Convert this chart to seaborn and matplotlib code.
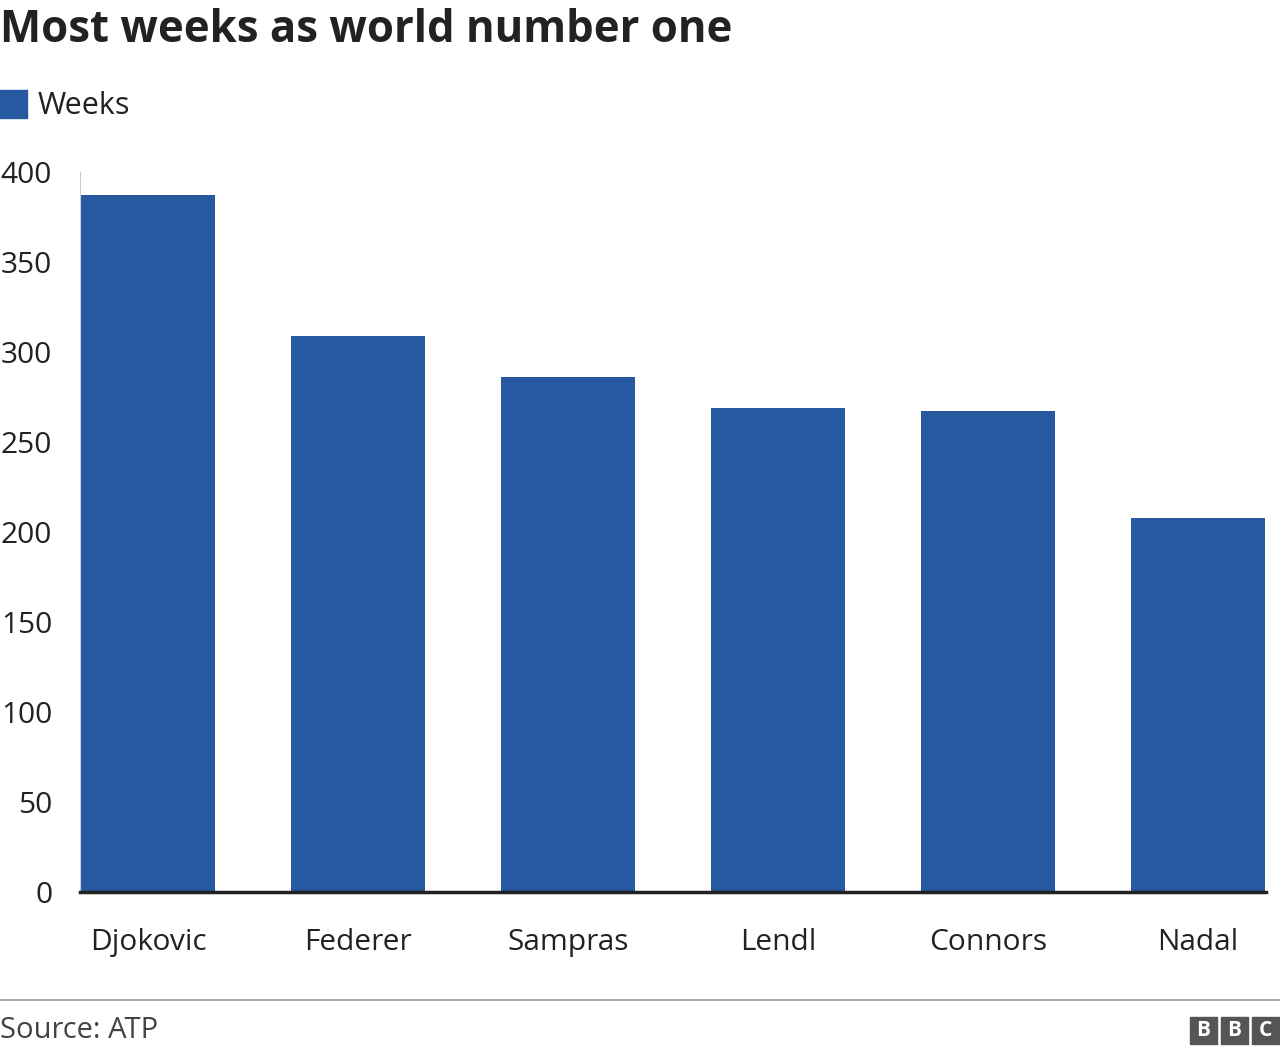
import matplotlib
matplotlib.use("Agg")
import matplotlib.pyplot as plt
import seaborn as sns
import pandas as pd
from matplotlib.patches import Rectangle

players = ["Djokovic", "Federer", "Sampras", "Lendl", "Connors", "Nadal"]
weeks = [387, 309, 286, 269, 267, 208]
yticks = [0, 50, 100, 150, 200, 250, 300, 350, 400]

plt.rcParams["font.family"] = "Open Sans"
df = pd.DataFrame({"player": players, "weeks": weeks})
color = "#2759a0"

fig = plt.figure(figsize=(12.8, 10.56), dpi=100)
ax = fig.add_axes([80/1280, 1-892/1056, (1266-80)/1280, (892-172)/1056])
sns.barplot(data=df, x="player", y="weeks", color=color, width=0.638, ax=ax, saturation=1)
ax.set_xlim(-0.324, 5.324)
ax.set_ylim(0, 400)
ax.set_yticks(yticks)
ax.set_xlabel(""); ax.set_ylabel("")
for s in ["top", "right"]:
    ax.spines[s].set_visible(False)
ax.spines["left"].set_color("#cccccc")
ax.spines["bottom"].set_linewidth(2.5)
ax.spines["bottom"].set_color("#222222")
ax.tick_params(axis="y", length=0, pad=20, labelsize=21.5, labelcolor="#222222")
ax.tick_params(axis="x", length=0, pad=26, labelsize=21.5, labelcolor="#222222")

fig.text(0.0, 1-30/1056, "Most weeks as world number one", fontsize=31.5, fontweight="bold",
         va="center", ha="left", color="#222222")
fig.patches.append(Rectangle((0, 1-118/1056), 27/1280, 28/1056, transform=fig.transFigure,
                             color=color, figure=fig))
fig.text(38/1280, 1-106/1056, "Weeks", fontsize=22, va="center", ha="left", color="#222222")
fig.add_artist(plt.Line2D([0, 1], [1-1000/1056]*2, color="#999999", lw=1.2, transform=fig.transFigure))
fig.text(0.0, 1-1031/1056, "Source: ATP", fontsize=21, va="center", ha="left", color="#444444")
for i, ch in enumerate("BBC"):
    x0 = (1190 + i*31)/1280
    fig.patches.append(Rectangle((x0, 1-1044/1056), 27/1280, 27/1056, transform=fig.transFigure,
                                 color="#555555", figure=fig))
    fig.text(x0 + 13.5/1280, 1-1030/1056, ch, fontsize=15, fontweight="bold", color="white",
             ha="center", va="center")
fig.savefig("out.png", dpi=100)
